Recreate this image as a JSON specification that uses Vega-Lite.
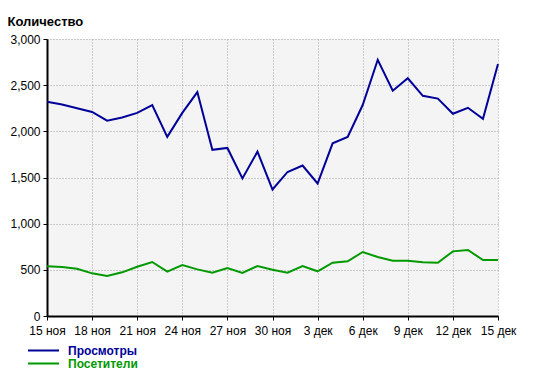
{
  "$schema": "https://vega.github.io/schema/vega-lite/v6.json",
  "autosize": "none",
  "width": 451,
  "height": 277,
  "padding": {"left": 47, "top": 39, "right": 43, "bottom": 67},
  "background": "white",
  "config": {
    "font": "Liberation Sans",
    "view": {"fill": "#f4f4f4", "stroke": null}
  },
  "data": {
    "values": [
      {"date": "2023-11-15", "series": "Просмотры", "value": 2320},
      {"date": "2023-11-16", "series": "Просмотры", "value": 2290},
      {"date": "2023-11-17", "series": "Просмотры", "value": 2250},
      {"date": "2023-11-18", "series": "Просмотры", "value": 2210},
      {"date": "2023-11-19", "series": "Просмотры", "value": 2115},
      {"date": "2023-11-20", "series": "Просмотры", "value": 2150},
      {"date": "2023-11-21", "series": "Просмотры", "value": 2200},
      {"date": "2023-11-22", "series": "Просмотры", "value": 2285},
      {"date": "2023-11-23", "series": "Просмотры", "value": 1940},
      {"date": "2023-11-24", "series": "Просмотры", "value": 2200},
      {"date": "2023-11-25", "series": "Просмотры", "value": 2425},
      {"date": "2023-11-26", "series": "Просмотры", "value": 1800},
      {"date": "2023-11-27", "series": "Просмотры", "value": 1820},
      {"date": "2023-11-28", "series": "Просмотры", "value": 1490},
      {"date": "2023-11-29", "series": "Просмотры", "value": 1780},
      {"date": "2023-11-30", "series": "Просмотры", "value": 1370},
      {"date": "2023-12-01", "series": "Просмотры", "value": 1560},
      {"date": "2023-12-02", "series": "Просмотры", "value": 1630},
      {"date": "2023-12-03", "series": "Просмотры", "value": 1435},
      {"date": "2023-12-04", "series": "Просмотры", "value": 1870},
      {"date": "2023-12-05", "series": "Просмотры", "value": 1940},
      {"date": "2023-12-06", "series": "Просмотры", "value": 2285},
      {"date": "2023-12-07", "series": "Просмотры", "value": 2775},
      {"date": "2023-12-08", "series": "Просмотры", "value": 2440},
      {"date": "2023-12-09", "series": "Просмотры", "value": 2575},
      {"date": "2023-12-10", "series": "Просмотры", "value": 2385},
      {"date": "2023-12-11", "series": "Просмотры", "value": 2355},
      {"date": "2023-12-12", "series": "Просмотры", "value": 2190},
      {"date": "2023-12-13", "series": "Просмотры", "value": 2255},
      {"date": "2023-12-14", "series": "Просмотры", "value": 2135},
      {"date": "2023-12-15", "series": "Просмотры", "value": 2730},
      {"date": "2023-11-15", "series": "Посетители", "value": 540},
      {"date": "2023-11-16", "series": "Посетители", "value": 530},
      {"date": "2023-11-17", "series": "Посетители", "value": 512},
      {"date": "2023-11-18", "series": "Посетители", "value": 462},
      {"date": "2023-11-19", "series": "Посетители", "value": 433},
      {"date": "2023-11-20", "series": "Посетители", "value": 473},
      {"date": "2023-11-21", "series": "Посетители", "value": 534},
      {"date": "2023-11-22", "series": "Посетители", "value": 585},
      {"date": "2023-11-23", "series": "Посетители", "value": 480},
      {"date": "2023-11-24", "series": "Посетители", "value": 552},
      {"date": "2023-11-25", "series": "Посетители", "value": 505},
      {"date": "2023-11-26", "series": "Посетители", "value": 469},
      {"date": "2023-11-27", "series": "Посетители", "value": 520},
      {"date": "2023-11-28", "series": "Посетители", "value": 466},
      {"date": "2023-11-29", "series": "Посетители", "value": 541},
      {"date": "2023-11-30", "series": "Посетители", "value": 500},
      {"date": "2023-12-01", "series": "Посетители", "value": 469},
      {"date": "2023-12-02", "series": "Посетители", "value": 541},
      {"date": "2023-12-03", "series": "Посетители", "value": 484},
      {"date": "2023-12-04", "series": "Посетители", "value": 577},
      {"date": "2023-12-05", "series": "Посетители", "value": 592},
      {"date": "2023-12-06", "series": "Посетители", "value": 693},
      {"date": "2023-12-07", "series": "Посетители", "value": 639},
      {"date": "2023-12-08", "series": "Посетители", "value": 599},
      {"date": "2023-12-09", "series": "Посетители", "value": 599},
      {"date": "2023-12-10", "series": "Посетители", "value": 581},
      {"date": "2023-12-11", "series": "Посетители", "value": 577},
      {"date": "2023-12-12", "series": "Посетители", "value": 700},
      {"date": "2023-12-13", "series": "Посетители", "value": 715},
      {"date": "2023-12-14", "series": "Посетители", "value": 606},
      {"date": "2023-12-15", "series": "Посетители", "value": 606}
    ]
  },
  "mark": {"type": "line", "strokeWidth": 2, "interpolate": "linear"},
  "encoding": {
    "x": {
      "field": "date",
      "type": "temporal",
      "scale": {
        "type": "utc",
        "domain": [
          {"year": 2023, "month": 11, "date": 15, "utc": true},
          {"year": 2023, "month": 12, "date": 15, "utc": true}
        ]
      },
      "axis": {
        "title": null,
        "values": [
          {"year": 2023, "month": 11, "date": 15, "utc": true},
          {"year": 2023, "month": 11, "date": 18, "utc": true},
          {"year": 2023, "month": 11, "date": 21, "utc": true},
          {"year": 2023, "month": 11, "date": 24, "utc": true},
          {"year": 2023, "month": 11, "date": 27, "utc": true},
          {"year": 2023, "month": 11, "date": 30, "utc": true},
          {"year": 2023, "month": 12, "date": 3, "utc": true},
          {"year": 2023, "month": 12, "date": 6, "utc": true},
          {"year": 2023, "month": 12, "date": 9, "utc": true},
          {"year": 2023, "month": 12, "date": 12, "utc": true},
          {"year": 2023, "month": 12, "date": 15, "utc": true}
        ],
        "labelExpr": "utcdate(datum.value) + ' ' + (utcmonth(datum.value) == 10 ? 'ноя' : 'дек')",
        "labelFont": "Liberation Sans",
        "labelFontSize": 12,
        "labelColor": "#000000",
        "labelPadding": 5,
        "labelFlush": false,
        "labelOverlap": false,
        "domainColor": "#000000",
        "domainWidth": 2,
        "tickColor": "#000000",
        "tickSize": 4,
        "tickWidth": 1,
        "grid": true,
        "gridColor": "#a0a0a0",
        "gridDash": [1, 2],
        "gridWidth": 1
      }
    },
    "y": {
      "field": "value",
      "type": "quantitative",
      "scale": {"domain": [0, 3000], "nice": false, "zero": true},
      "axis": {
        "title": "Количество",
        "titleAngle": 0,
        "titleAlign": "left",
        "titleBaseline": "alphabetic",
        "titleX": -40,
        "titleY": -14,
        "titleFont": "Liberation Sans",
        "titleFontSize": 13,
        "titleFontWeight": "bold",
        "titleColor": "#000000",
        "values": [0, 500, 1000, 1500, 2000, 2500, 3000],
        "format": ",.0f",
        "labelFont": "Liberation Sans",
        "labelFontSize": 12,
        "labelColor": "#000000",
        "labelPadding": 3,
        "labelFlush": false,
        "domainColor": "#000000",
        "domainWidth": 2,
        "tickColor": "#000000",
        "tickSize": 4,
        "tickWidth": 1,
        "grid": true,
        "gridColor": "#a0a0a0",
        "gridDash": [1, 2],
        "gridWidth": 1
      }
    },
    "color": {
      "field": "series",
      "type": "nominal",
      "sort": ["Просмотры", "Посетители"],
      "scale": {"domain": ["Просмотры", "Посетители"], "range": ["#000099", "#009900"]},
      "legend": {
        "title": null,
        "orient": "none",
        "legendX": -20,
        "legendY": 305,
        "padding": 0,
        "symbolType": "stroke",
        "symbolSize": 961,
        "symbolStrokeWidth": 2,
        "clipHeight": 13,
        "rowPadding": 0,
        "labelOffset": 8,
        "labelFont": "Liberation Sans",
        "labelFontSize": 12,
        "labelFontWeight": "bold",
        "encode": {
          "labels": {
            "update": {
              "fill": {"signal": "datum.value === 'Просмотры' ? '#000099' : '#009900'"}
            }
          }
        }
      }
    }
  }
}
